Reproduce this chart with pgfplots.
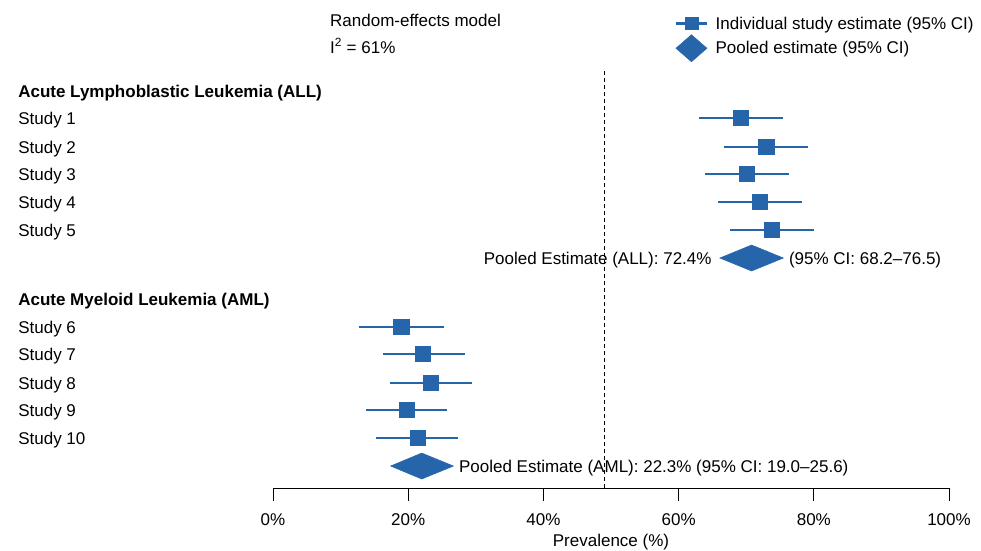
\documentclass[border=0pt]{standalone}
\usepackage{pgfplots}
\pgfplotsset{compat=1.18}
\usepackage{pgfplotstable}
\usepackage{fontspec}
\setmainfont{Liberation Sans}
\definecolor{fblue}{RGB}{38,101,170}
\newcommand{\ff}{\fontsize{17bp}{20bp}\selectfont}

\pgfplotstableread{
y est lo hi
370 69.2 63.0 75.4
341 73.0 66.7 79.2
314 70.1 63.9 76.3
286 72.0 65.8 78.2
258 73.8 67.6 80.0
161 19.0 12.7 25.3
134 22.2 16.2 28.4
105 23.4 17.3 29.5
78 19.8 13.7 25.8
50 21.4 15.2 27.4
}\studies

\begin{document}
\begin{tikzpicture}[lab/.style={font=\ff, inner sep=0pt, yshift=-2bp}]
\begin{axis}[
  scale only axis, width=676bp, height=488bp,
  xmin=0, xmax=100, ymin=0, ymax=488,
  axis x line*=bottom, axis y line=none,
  x axis line style={-, line width=0.9bp},
  xtick={0,20,40,60,80,100},
  xticklabels={0\%,20\%,40\%,60\%,80\%,100\%},
  tick align=outside, major tick length=13bp,
  tick style={black, line width=0.9bp},
  xticklabel style={font=\ff, yshift=-9bp},
  xlabel={Prevalence (\%)},
  xlabel style={font=\ff, yshift=-2bp},
  /pgf/number format/assume math mode=true,
  clip=false,
  legend style={at={(axis cs:59.4,473.5)}, anchor=north west, draw=none, fill=none,
    font=\ff, inner sep=0pt, row sep=2bp, cells={anchor=west},
    /tikz/every odd column/.append style={column sep=5.5bp}},
]
\coordinate (bl) at (axis cs:-40.38,-62);
\coordinate (tr) at (axis cs:104.73,488);

% dashed reference line
\addplot[black, line width=0.8bp, dash pattern=on 4bp off 3bp, forget plot] coordinates {(49,0) (49,418)};

% study estimates with CIs
\addplot[fblue, only marks, mark=square*, mark size=7.6bp,
  mark options={fill=fblue, draw=fblue, line width=0.8bp},
  legend image code/.code={\draw[fblue, line width=2.4bp] (0bp,0bp) -- (31bp,0bp);
     \fill[fblue] (9bp,-6bp) rectangle (22bp,6bp);},
  error bars/.cd, x dir=both, x explicit,
  error mark=none, error bar style={line width=2.4bp, fblue}]
  table[x=est, y=y, x error minus expr=\thisrow{est}-\thisrow{lo},
        x error plus expr=\thisrow{hi}-\thisrow{est}] {\studies};
\addlegendentry{Individual study estimate (95\% CI)}

% pooled diamonds
\addplot[fill=fblue, draw=fblue, line width=0.5bp,
  legend image code/.code={\fill[fblue] (0bp,0bp) -- (15.5bp,13.5bp) -- (31bp,0bp) -- (15.5bp,-13.5bp) -- cycle;}]
  coordinates {(66.1,230) (70.8,243) (75.5,230) (70.8,217) (66.1,230)} --cycle;
\addlegendentry{Pooled estimate (95\% CI)}
\addplot[fill=fblue, draw=fblue, line width=0.5bp, forget plot]
  coordinates {(17.4,22) (22.0,35) (26.7,22) (22.0,9) (17.4,22)} --cycle;

% header texts
\node[anchor=west, font=\ff, inner sep=0pt] at (axis cs:8.43,468) {Random-effects model};
\node[anchor=west, font=\ff, inner sep=0pt] at (axis cs:8.43,442) {I\textsuperscript{2} = 61\%};

\node[anchor=west, lab, font=\ff\bfseries] at (axis cs:-37.7,397) {Acute Lymphoblastic Leukemia (ALL)};
\node[anchor=west, lab] at (axis cs:-37.7,370) {Study 1};
\node[anchor=west, lab] at (axis cs:-37.7,341) {Study 2};
\node[anchor=west, lab] at (axis cs:-37.7,314) {Study 3};
\node[anchor=west, lab] at (axis cs:-37.7,286) {Study 4};
\node[anchor=west, lab] at (axis cs:-37.7,258) {Study 5};
\node[anchor=east, lab] at (axis cs:64.9,230) {Pooled Estimate (ALL): 72.4\%};
\node[anchor=west, lab] at (axis cs:76.3,230) {(95\% CI: 68.2--76.5)};

\node[anchor=west, lab, font=\ff\bfseries] at (axis cs:-37.7,189) {Acute Myeloid Leukemia (AML)};
\node[anchor=west, lab] at (axis cs:-37.7,161) {Study 6};
\node[anchor=west, lab] at (axis cs:-37.7,134) {Study 7};
\node[anchor=west, lab] at (axis cs:-37.7,105) {Study 8};
\node[anchor=west, lab] at (axis cs:-37.7,78) {Study 9};
\node[anchor=west, lab] at (axis cs:-37.7,50) {Study 10};
\node[anchor=west, lab] at (axis cs:27.5,22) {Pooled Estimate (AML): 22.3\% (95\% CI: 19.0--25.6)};
\end{axis}
\pgfresetboundingbox
\useasboundingbox (bl) rectangle (tr);
\end{tikzpicture}
\end{document}
